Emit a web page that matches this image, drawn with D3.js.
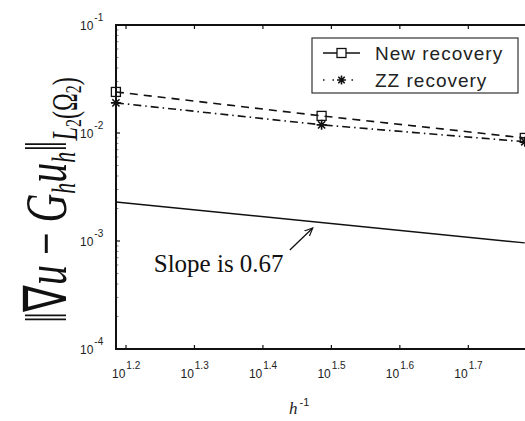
<!DOCTYPE html>
<html>
<head>
<meta charset="utf-8">
<script src="https://cdn.jsdelivr.net/npm/d3@7"></script>
<style>
  body { margin: 0; background: #fff; }
  svg { display: block; }
</style>
</head>
<body>
<div id="chart"></div>
<script>
// data (h^-1 vs error norm)
const hInv = [15.32, 30.6, 60.6];
const newRecovery = [0.0240, 0.0144, 0.0090];
const zzRecovery = [0.0190, 0.0119, 0.0083];
const slopeLineX = [15.32, 60.6];
const slopeLineY = [0.00230, 0.00096];
const xTickExps = [1.2, 1.3, 1.4, 1.5, 1.6, 1.7];
const yTickExps = [-1, -2, -3, -4];
const legendLabels = ["New recovery", "ZZ recovery"];
// arrow tail / head and label anchor, in data units
const arrowFrom = [27.5, 0.000826];
const arrowTo = [29.7, 0.00132];
const slopeText = "Slope is 0.67";
const slopeTextAt = [17.4, 0.000516];

const width = 525, height = 421;
const plotLeft = 116, plotTop = 25, plotBottom = 349, plotRight = 571;

const svg = d3.select("#chart").append("svg")
    .attr("width", width)
    .attr("height", height);

const x = d3.scaleLog().domain([Math.pow(10, 1.1854), Math.pow(10, 1.85)]).range([plotLeft, plotRight]);
const y = d3.scaleLog().domain([1e-4, 1e-1]).range([plotBottom, plotTop]);

svg.append("defs").append("marker")
    .attr("id", "arrowhead")
    .attr("viewBox", "0 -5 10 10")
    .attr("refX", 9)
    .attr("refY", 0)
    .attr("orient", "auto")
    .attr("markerWidth", 7)
    .attr("markerHeight", 7)
    .append("path")
    .attr("d", "M0,-4 L9,0 L0,4")
    .attr("fill", "none")
    .attr("stroke", "#111")
    .attr("stroke-width", 1.3);

// minor y ticks (log decades)
const minorY = [];
for (let e = -4; e < -1; e++) {
    for (let k = 2; k <= 9; k++) minorY.push(k * Math.pow(10, e));
}
svg.append("g").selectAll("line")
    .data(minorY)
    .join("line")
    .attr("x1", plotLeft).attr("x2", plotLeft + 2.5)
    .attr("y1", d => y(d)).attr("y2", d => y(d))
    .attr("stroke", "#888").attr("stroke-width", 1);

// major ticks
svg.append("g").selectAll("line")
    .data(yTickExps)
    .join("line")
    .attr("x1", plotLeft).attr("x2", plotLeft + 4)
    .attr("y1", d => y(Math.pow(10, d))).attr("y2", d => y(Math.pow(10, d)))
    .attr("stroke", "#111").attr("stroke-width", 1.2);

const xt = svg.append("g");
xTickExps.forEach(e => {
    const px = x(Math.pow(10, e));
    xt.append("line").attr("x1", px).attr("x2", px).attr("y1", plotBottom).attr("y2", plotBottom - 4)
        .attr("stroke", "#111").attr("stroke-width", 1.2);
    xt.append("line").attr("x1", px).attr("x2", px).attr("y1", plotTop).attr("y2", plotTop + 4)
        .attr("stroke", "#111").attr("stroke-width", 1.2);
});

// axes box
svg.append("path")
    .attr("d", `M${plotRight},${plotTop} L${plotLeft},${plotTop} L${plotLeft},${plotBottom} L${plotRight},${plotBottom}`)
    .attr("fill", "none")
    .attr("stroke", "#111")
    .attr("stroke-width", 2);

// tick labels
const tickFont = "Liberation Sans, Arial, sans-serif";
xTickExps.forEach(e => {
    const px = x(Math.pow(10, e));
    const t = svg.append("text")
        .attr("x", px - 14).attr("y", 378)
        .attr("font-family", tickFont).attr("font-size", 12)
        .attr("fill", "#222");
    t.append("tspan").text("10");
    t.append("tspan").attr("dx", 1).attr("dy", -9).attr("font-size", 10).text(e.toFixed(1));
});
yTickExps.forEach(e => {
    const py = y(Math.pow(10, e));
    const t = svg.append("text")
        .attr("x", 80).attr("y", py + 5)
        .attr("font-family", tickFont).attr("font-size", 12)
        .attr("fill", "#222");
    t.append("tspan").text("10");
    t.append("tspan").attr("dx", 1).attr("dy", -9).attr("font-size", 10).text(String(e));
});

// x label
const xl = svg.append("text")
    .attr("x", 289).attr("y", 414)
    .attr("font-family", "Liberation Serif, serif")
    .attr("font-size", 17)
    .attr("fill", "#222");
xl.append("tspan").attr("font-style", "italic").text("h");
xl.append("tspan").attr("dx", 2).attr("dy", -8).attr("font-size", 11).attr("font-family", tickFont).text("-1");

// y label
const yl = svg.append("text")
    .attr("transform", "translate(66,323) rotate(-90) scale(1,1.5)")
    .attr("font-family", "Liberation Serif, serif")
    .attr("font-size", 40)
    .attr("fill", "#111");
yl.append("tspan").text("\u2016\u2207");
yl.append("tspan").attr("font-style", "italic").text("u");
yl.append("tspan").text(" \u2212 ");
yl.append("tspan").attr("font-style", "italic").text("G");
yl.append("tspan").attr("font-style", "italic").attr("font-size", 22).attr("dy", 6).text("h");
yl.append("tspan").attr("font-style", "italic").attr("dy", -6).text("u");
yl.append("tspan").attr("font-style", "italic").attr("font-size", 22).attr("dy", 6).text("h");
yl.append("tspan").attr("dy", -6).text("\u2016");
yl.append("tspan").attr("font-style", "italic").attr("font-size", 24).attr("dy", 7).text("L");
yl.append("tspan").attr("font-size", 16).attr("dy", 3).text("2");
yl.append("tspan").attr("font-size", 24).attr("dy", -3).text("(\u03A9");
yl.append("tspan").attr("font-size", 16).attr("dy", 3).text("2");
yl.append("tspan").attr("font-size", 24).attr("dy", -3).text(")");

// series
const line = d3.line().x(d => x(d[0])).y(d => y(d[1]));

svg.append("path")
    .datum(hInv.map((h, i) => [h, newRecovery[i]]))
    .attr("d", line)
    .attr("fill", "none").attr("stroke", "#111").attr("stroke-width", 1.6)
    .attr("stroke-dasharray", "8,6");

svg.append("path")
    .datum(hInv.map((h, i) => [h, zzRecovery[i]]))
    .attr("d", line)
    .attr("fill", "none").attr("stroke", "#111").attr("stroke-width", 1.6)
    .attr("stroke-dasharray", "8,4,1.5,4");

svg.append("path")
    .datum(slopeLineX.map((h, i) => [h, slopeLineY[i]]))
    .attr("d", line)
    .attr("fill", "none").attr("stroke", "#111").attr("stroke-width", 1.4);

function starPath(cx, cy, r) {
    const d = r * 0.72;
    return `M${cx - r},${cy}L${cx + r},${cy}M${cx},${cy - r}L${cx},${cy + r}` +
        `M${cx - d},${cy - d}L${cx + d},${cy + d}M${cx - d},${cy + d}L${cx + d},${cy - d}`;
}

svg.append("g").selectAll("rect")
    .data(hInv.map((h, i) => [h, newRecovery[i]]))
    .join("rect")
    .attr("x", d => x(d[0]) - 4.5).attr("y", d => y(d[1]) - 4.5)
    .attr("width", 9).attr("height", 9)
    .attr("fill", "none").attr("stroke", "#111").attr("stroke-width", 1.3);

svg.append("g").selectAll("path")
    .data(hInv.map((h, i) => [h, zzRecovery[i]]))
    .join("path")
    .attr("d", d => starPath(x(d[0]), y(d[1]), 5))
    .attr("stroke", "#111").attr("stroke-width", 1.6);

// slope annotation
svg.append("line")
    .attr("x1", x(arrowFrom[0])).attr("y1", y(arrowFrom[1]))
    .attr("x2", x(arrowTo[0])).attr("y2", y(arrowTo[1]))
    .attr("stroke", "#111").attr("stroke-width", 1.3)
    .attr("marker-end", "url(#arrowhead)");

svg.append("text")
    .attr("x", x(slopeTextAt[0])).attr("y", y(slopeTextAt[1]))
    .attr("font-family", "Liberation Serif, serif")
    .attr("font-size", 25)
    .attr("fill", "#111")
    .text(slopeText);

// legend
const lg = svg.append("g");
lg.append("rect")
    .attr("x", 312).attr("y", 38).attr("width", 206).attr("height", 55)
    .attr("fill", "#fff").attr("stroke", "#333").attr("stroke-width", 1.2);
const rows = [53, 80];
legendLabels.forEach((lab, i) => {
    const ry = rows[i];
    lg.append("line")
        .attr("x1", 323).attr("x2", 360).attr("y1", ry).attr("y2", ry)
        .attr("stroke", "#111").attr("stroke-width", 1.4)
        .attr("stroke-dasharray", i === 0 ? null : "1.5,8");
    if (i === 0) {
        lg.append("rect").attr("x", 337).attr("y", ry - 4.5).attr("width", 9).attr("height", 9)
            .attr("fill", "#fff").attr("stroke", "#111").attr("stroke-width", 1.3);
    } else {
        lg.append("path").attr("d", starPath(341.5, ry, 4.5))
            .attr("stroke", "#111").attr("stroke-width", 1.6);
    }
    lg.append("text")
        .attr("x", 375).attr("y", ry + 6.5)
        .attr("font-family", tickFont)
        .attr("font-size", 19)
        .attr("letter-spacing", 1)
        .attr("fill", "#222")
        .text(lab);
});
</script>
</body>
</html>
